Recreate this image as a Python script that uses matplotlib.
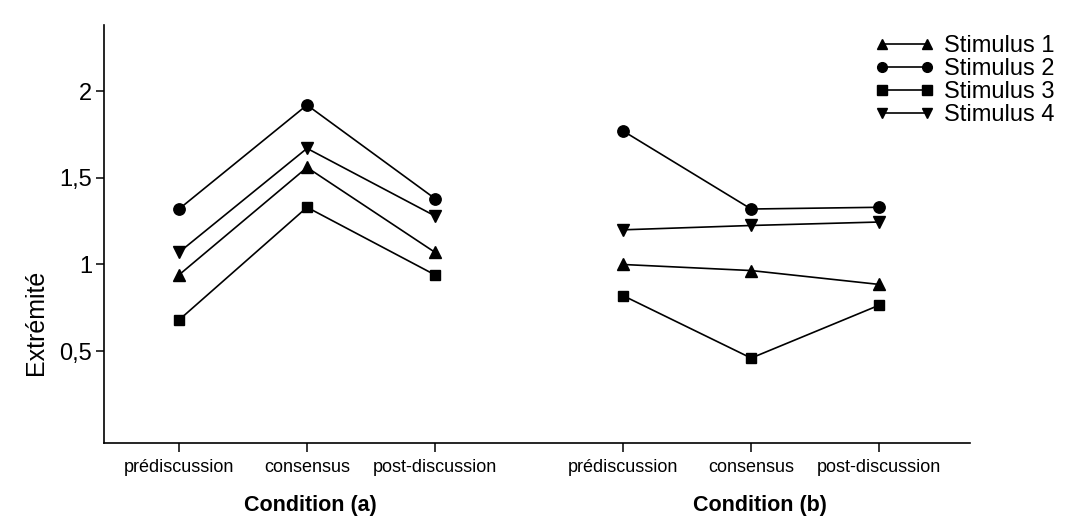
import matplotlib
matplotlib.use("Agg")
import matplotlib.pyplot as plt

# conditions on the x axis, two panels (a) and (b) sharing one axis
conditions = ["prédiscussion", "consensus", "post-discussion"]
panel_a_x = [0, 1, 2]
panel_b_x = [3.47, 4.47, 5.47]

# Extrémité values: [prédiscussion, consensus, post-discussion]
stim1_a = [0.94, 1.56, 1.07]
stim2_a = [1.32, 1.92, 1.38]
stim3_a = [0.68, 1.33, 0.94]
stim4_a = [1.07, 1.67, 1.28]

stim1_b = [1.00, 0.965, 0.885]
stim2_b = [1.77, 1.32, 1.33]
stim3_b = [0.82, 0.46, 0.765]
stim4_b = [1.20, 1.225, 1.245]

series = [
    ("Stimulus 1", "^", stim1_a, stim1_b),
    ("Stimulus 2", "o", stim2_a, stim2_b),
    ("Stimulus 3", "s", stim3_a, stim3_b),
    ("Stimulus 4", "v", stim4_a, stim4_b),
]

plt.rcParams["font.family"] = ["Liberation Sans", "DejaVu Sans"]

fig = plt.figure(figsize=(10.69, 5.31), dpi=100)
ax = fig.add_axes([0.0973, 0.1657, 0.8101, 0.787])

for name, mk, ya, yb in series:
    ms = 7.2 if mk == "s" else 8.2
    ax.plot(panel_a_x, ya, color="black", lw=1.2, marker=mk, ms=ms, label=name)
    ax.plot(panel_b_x, yb, color="black", lw=1.2, marker=mk, ms=ms)

ax.set_xlim(-0.586, 6.18)
ax.set_ylim(-0.03, 2.381)

ax.spines["top"].set_visible(False)
ax.spines["right"].set_visible(False)
for s in ("left", "bottom"):
    ax.spines[s].set_linewidth(1.2)

ax.set_xticks(panel_a_x + panel_b_x)
ax.set_xticklabels(conditions + conditions, fontsize=13)
ax.set_yticks([0.5, 1, 1.5, 2])
ax.set_yticklabels(["0,5", "1", "1,5", "2"], fontsize=17)
ax.tick_params(axis="both", direction="out", width=1.1, colors="black")
ax.tick_params(axis="x", length=6.5, pad=5)
ax.tick_params(axis="y", length=5.5, pad=3)

fig.text(310 / 1069, 1 - 505 / 531, "Condition (a)", ha="center", va="center",
         fontsize=15.5, fontweight="bold")
fig.text(760 / 1069, 1 - 505 / 531, "Condition (b)", ha="center", va="center",
         fontsize=15.5, fontweight="bold")
fig.text(36 / 1069, 1 - 322 / 531, "Extrémité", rotation=90, ha="center",
         va="center", fontsize=18)

leg = ax.legend(loc="upper right", bbox_to_anchor=(1066 / 1069, 1 - 23 / 531),
                bbox_transform=fig.transFigure, frameon=False, numpoints=2,
                handlelength=2.5, handletextpad=0.4, labelspacing=0.05,
                borderpad=0, prop={"size": 17})
for line in leg.get_lines():
    line.set_markersize(7)

fig.savefig("out.png", dpi=100, facecolor="white")
